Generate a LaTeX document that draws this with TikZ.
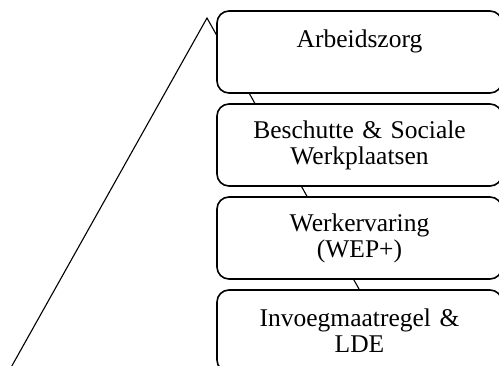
\documentclass[tikz,border=0pt]{standalone}
\usepackage{fontspec}
\setmainfont{Liberation Serif}
\usetikzlibrary{positioning}

\begin{document}
\begin{tikzpicture}[
    x = 1pt, y = 1pt,
    node distance = 93pt,
    level/.style = {draw=black, fill=white, line width=1.6pt,
        rounded corners=12pt, inner sep=0pt, align=center,
        text width=270pt, minimum width=285pt, minimum height=82pt,
        font=\fontsize{25.5}{26}\selectfont}]
    \useasboundingbox (0,0) rectangle (499,366);
    \clip (0,0) rectangle (499,366);
    % PYRAMID
    \coordinate (top) at (207,348);
    \coordinate (baseL) at (-5,-30);
    \coordinate (baseR) at (419,-30);
    \draw[line width=1.1pt, line join=miter] (baseL) -- (top) -- (baseR);

    % NODES
    % level 1
    \node[level] (L1) at (359.5,314) {Arbeidszorg\\\mbox{}};
    % level 2
    \node[level, below of = L1] (L2) {Beschutte \& Sociale\\Werkplaatsen};
    % level 3
    \node[level, below of = L2] (L3) {Werkervaring\\(WEP+)};
    % level 4
    \node[level, below of = L3] (L4) {Invoegmaatregel \&\\LDE};
\end{tikzpicture}
\end{document}
